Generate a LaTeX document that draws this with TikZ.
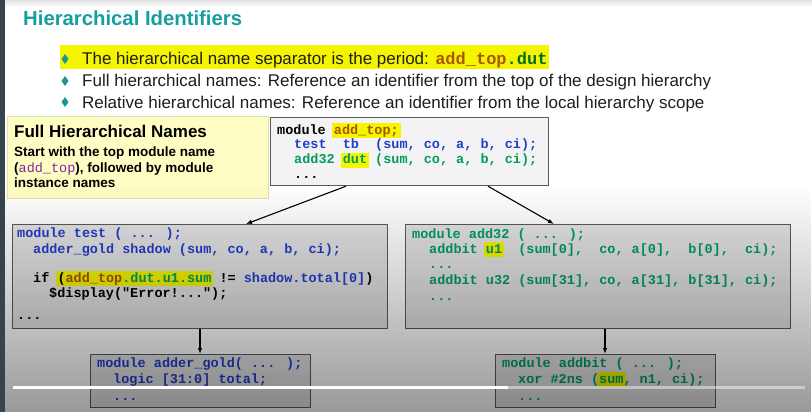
\documentclass[tikz,border=0pt]{standalone}
\usepackage{fontspec}
\setmainfont{Liberation Sans}
\newfontfamily\codefont{Liberation Mono}
\usetikzlibrary{arrows.meta,fadings}

\definecolor{titleteal}{RGB}{22,158,160}
\definecolor{bulletteal}{RGB}{26,150,150}
\definecolor{bodytext}{RGB}{30,30,30}
\definecolor{hly}{RGB}{245,245,0}
\definecolor{cblue}{RGB}{35,62,200}
\definecolor{cgreen}{RGB}{0,158,92}
\definecolor{cbrown}{RGB}{170,85,0}
\definecolor{cdkgreen}{RGB}{0,110,40}
\definecolor{cpurple}{RGB}{130,40,160}
\definecolor{notefill}{RGB}{253,253,196}
\definecolor{noteedge}{RGB}{225,225,170}
\definecolor{boxfill}{RGB}{226,226,228}
\definecolor{topfill}{RGB}{243,243,245}
\definecolor{boxedge}{RGB}{90,90,90}
\definecolor{sidebar}{RGB}{56,68,76}

% bold code face used in the listings
\newcommand\cfont{\codefont\bfseries\fontsize{13.5}{15}\selectfont}
% yellow marker behind a piece of code, without shifting the columns
\newcommand\hlbox[1]{{\setlength{\fboxsep}{0pt}\kern-2pt\colorbox{hly}{\kern2pt\rule[-3.5pt]{0pt}{14.5pt}#1\kern2pt}\kern-2pt}}

\tikzfading[name=dimdown, top color=transparent!100, bottom color=transparent!0]

\tikzset{
  codetxt/.style={anchor=base west, inner sep=0pt, font=\cfont},
  bullettxt/.style={anchor=base west, inner sep=0pt, text=bodytext,
    font=\fontsize{17}{20}\selectfont},
  codebox/.style={draw=boxedge, line width=1.2pt, fill=boxfill,
    anchor=north west, inner sep=0pt},
  notebox/.style={draw=noteedge, line width=1pt, fill=notefill,
    anchor=north west, inner sep=0pt},
  link/.style={-{Latex[length=6pt,width=4.5pt]}, line width=1.1pt, black},
}

\begin{document}
\begin{tikzpicture}[x=1pt,y=-1pt]
\useasboundingbox (0,0) rectangle (812,412);
\fill[white] (0,0) rectangle (812,412);
\shade[top color=gray!22, bottom color=white] (0,0) rectangle (812,7);

% title
\node[anchor=base west, inner sep=0pt, text=titleteal,
  font=\bfseries\fontsize{20.3}{24}\selectfont] (title) at (23,26) {Hierarchical Identifiers};

% bullet list
\fill[hly] (60,45) rectangle (549,69);
\foreach \by in {59,81,102}
  \fill[bulletteal] (65,\by-5) -- (68.5,\by) -- (65,\by+5) -- (61.5,\by) -- cycle;
\node[bullettxt] (b1) at (82,65) {The hierarchical name separator is the period: {\codefont\bfseries\fontsize{17}{20}\selectfont\textcolor{cbrown}{add\_top}\textcolor{cdkgreen}{.dut}}};
\node[bullettxt] (b2) at (82,87) {Full hierarchical names: Reference an identifier from the top of the design hierarchy};
\node[bullettxt] (b3) at (82,108) {Relative hierarchical names: Reference an identifier from the local hierarchy scope};

% note
\node[notebox, minimum width=261pt, minimum height=82pt] (note) at (7,116) {};
\node[anchor=base west, inner sep=0pt, font=\bfseries\fontsize{17}{20}\selectfont] (n1) at (14,138) {Full Hierarchical Names};
\node[anchor=base west, inner sep=0pt, font=\bfseries\fontsize{13.5}{16}\selectfont] (n2) at (14,156) {Start with the top module name};
\node[anchor=base west, inner sep=0pt, font=\bfseries\fontsize{13.5}{16}\selectfont] (n3) at (14,172) {({\codefont\mdseries\textcolor{cpurple}{add\_top}}), followed by module};
\node[anchor=base west, inner sep=0pt, font=\bfseries\fontsize{13.5}{16}\selectfont] (n4) at (14,187) {instance names};

% module boxes
\node[codebox, fill=topfill, minimum width=278pt, minimum height=68pt] (topbox) at (270,117) {};
\node[codebox, minimum width=375pt, minimum height=104pt] (testbox) at (12,224) {};
\node[codebox, minimum width=385pt, minimum height=104pt] (addbox) at (405,224) {};
\node[codebox, minimum width=220pt, minimum height=53pt] (goldbox) at (90,354) {};
\node[codebox, minimum width=220pt, minimum height=53pt] (bitbox) at (495,354) {};

% module add_top
\node[codetxt] (t1) at (277,134) {module \hlbox{\textcolor{cbrown}{add\_top;}}};
\node[codetxt, text=cblue] (t2) at (294,149) {test~~tb~~(sum, co, a, b, ci);};
\node[codetxt, text=cgreen] (t3) at (294,164) {add32 \hlbox{dut} (sum, co, a, b, ci);};
\node[codetxt] (t4) at (294,178) {...};

% module test
\node[codetxt, text=cblue] (s1) at (17,237) {module test ( ... );};
\node[codetxt, text=cblue] (s2) at (33,253) {adder\_gold shadow (sum, co, a, b, ci);};
\node[codetxt] (s3) at (33,282) {if \hlbox{(\textcolor{cbrown}{add\_top}\textcolor{cgreen}{.dut.u1.sum}} != \textcolor{cblue}{shadow.total[0]})};
\node[codetxt] (s4) at (49,297) {\$display("Error!...");};
\node[codetxt] (s5) at (17,319) {...};

% module add32
\node[codetxt, text=cgreen] (a1) at (412,238) {module add32 ( ... );};
\node[codetxt, text=cgreen] (a2) at (429,253) {addbit \hlbox{u1}~~(sum[0],~~co, a[0],~~b[0],~~ci);};
\node[codetxt, text=cgreen] (a3) at (429,268) {...};
\node[codetxt, text=cgreen] (a4) at (429,284) {addbit u32 (sum[31], co, a[31], b[31], ci);};
\node[codetxt, text=cgreen] (a5) at (429,300) {...};

% module adder_gold
\node[codetxt, text=cblue] (g1) at (97,367) {module adder\_gold( ... );};
\node[codetxt, text=cblue] (g2) at (113,383) {logic [31:0] total;};
\node[codetxt, text=cblue] (g3) at (113,400) {...};

% module addbit
\node[codetxt, text=cgreen] (d1) at (502,367) {module addbit ( ... );};
\node[codetxt, text=cgreen] (d2) at (518,383) {xor \#2ns (\hlbox{sum}, n1, ci);};
\node[codetxt, text=cgreen] (d3) at (518,400) {...};

% hierarchy links
\draw[link] ([xshift=76pt]topbox.south west) -- ([xshift=234pt]testbox.north west);
\draw[link] ([xshift=218pt]topbox.south west) -- ([xshift=149pt]addbox.north west);
\draw[link] ([xshift=188pt]testbox.south west) -- ([xshift=110pt]goldbox.north west);
\draw[link] ([xshift=200pt]addbox.south west) -- ([xshift=110pt]bitbox.north west);

% darkening towards the bottom edge
\fill[black, fill opacity=0.4, path fading=dimdown] (0,185) rectangle (812,412);

% side bar and progress line
\fill[sidebar] (0,0) rectangle (4.5,412);
\draw[white, line width=3pt] (13,387) -- (508,387);
\draw[white, opacity=0.45, line width=3pt] (508,387) -- (805,387);
\end{tikzpicture}
\end{document}
